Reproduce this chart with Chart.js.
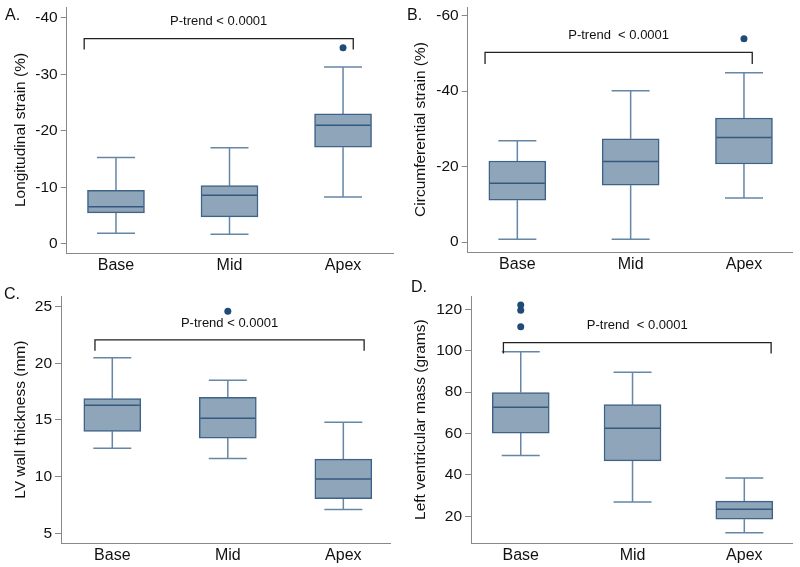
<!DOCTYPE html>
<html>
<head>
<meta charset="utf-8">
<script src="https://cdn.jsdelivr.net/npm/chart.js@4.4.1/dist/chart.umd.min.js"></script>
<style>
body { margin: 0; background: #fff; width: 800px; height: 567px; position: relative; overflow: hidden; font-family: "Liberation Sans", Arial, sans-serif; }
canvas { position: absolute; }
.tag { position: absolute; font-size: 16px; line-height: 16px; color: #111; }
</style>
</head>
<body>
<canvas id="cA" width="400" height="283" style="left:0;top:0"></canvas>
<canvas id="cB" width="400" height="283" style="left:400px;top:0"></canvas>
<canvas id="cC" width="400" height="284" style="left:0;top:283px"></canvas>
<canvas id="cD" width="400" height="284" style="left:400px;top:283px"></canvas>
<div class="tag" style="left:5px;top:7px">A.</div>
<div class="tag" style="left:407px;top:7px">B.</div>
<div class="tag" style="left:4px;top:286px">C.</div>
<div class="tag" style="left:411px;top:279px">D.</div>
<script>
var categories = ['Base', 'Mid', 'Apex'];

// A. longitudinal strain (%)
var longLow = [-1.9, -1.7, -8.3];
var longQ1 = [-5.5, -4.8, -17.1];
var longMedian = [-6.6, -8.6, -21.0];
var longQ3 = [-9.5, -10.3, -23.0];
var longHigh = [-15.3, -17.0, -31.3];
var longOutliers = [[], [], [-34.7]];
var longTicks = [-40, -30, -20, -10, 0];

// B. circumferential strain (%)
var circLow = [-0.8, -0.8, -11.7];
var circQ1 = [-11.1, -15.1, -20.7];
var circMedian = [-15.6, -21.4, -27.7];
var circQ3 = [-21.5, -27.4, -32.9];
var circHigh = [-26.9, -40.1, -44.9];
var circOutliers = [[], [], [-53.9]];
var circTicks = [-60, -40, -20, 0];

// C. LV wall thickness (mm)
var wallLow = [12.5, 11.6, 7.1];
var wallQ1 = [14.0, 13.4, 8.05];
var wallMedian = [16.3, 15.15, 9.8];
var wallQ3 = [16.9, 17.0, 11.55];
var wallHigh = [20.5, 18.5, 14.8];
var wallOutliers = [[], [24.6], []];
var wallTicks = [5, 10, 15, 20, 25];

// D. left ventricular mass (grams)
var massLow = [49.4, 26.9, 12.1];
var massQ1 = [60.2, 46.8, 18.6];
var massMedian = [72.7, 62.5, 23.4];
var massQ3 = [79.8, 73.9, 27.3];
var massHigh = [99.5, 89.6, 38.5];
var massOutliers = [[122.1, 119.5, 111.6], [], []];
var massTicks = [20, 40, 60, 80, 100, 120];

var FONT = '"Liberation Sans", Arial, sans-serif';
var BOX_W = 57;

// whiskers, medians and the P-trend bracket, drawn through the chart scales
var boxPlugin = {
    id: 'boxWhiskers',
    beforeDatasetsDraw: function (chart, args, o) {
        var xs = chart.scales.x, ys = chart.scales.y, ctx = chart.ctx;
        ctx.save();
        ctx.strokeStyle = '#6586a5';
        ctx.lineWidth = 1.5;
        o.q1.forEach(function (v, i) {
            var x = xs.getPixelForValue(i + 1);
            [[o.q1[i], o.low[i]], [o.q3[i], o.high[i]]].forEach(function (seg) {
                var y0 = ys.getPixelForValue(seg[0]);
                var y1 = ys.getPixelForValue(seg[1]);
                ctx.beginPath();
                ctx.moveTo(x, y0);
                ctx.lineTo(x, y1);
                ctx.moveTo(x - 19, y1);
                ctx.lineTo(x + 19, y1);
                ctx.stroke();
            });
        });
        ctx.restore();
    },
    afterDatasetsDraw: function (chart, args, o) {
        var xs = chart.scales.x, ys = chart.scales.y, ctx = chart.ctx;
        ctx.save();
        // medians
        ctx.strokeStyle = '#34597f';
        ctx.lineWidth = 1.5;
        o.median.forEach(function (v, i) {
            var x = xs.getPixelForValue(i + 1);
            var y = ys.getPixelForValue(v);
            ctx.beginPath();
            ctx.moveTo(x - BOX_W / 2 + 1, y);
            ctx.lineTo(x + BOX_W / 2 - 1, y);
            ctx.stroke();
        });
        // bracket
        var b = o.bracket;
        var x1 = xs.getPixelForValue(b.from), x2 = xs.getPixelForValue(b.to);
        var yb = ys.getPixelForValue(b.y), yd = ys.getPixelForValue(b.drop);
        ctx.strokeStyle = '#222';
        ctx.lineWidth = 1.3;
        ctx.beginPath();
        ctx.moveTo(x1, yd);
        ctx.lineTo(x1, yb);
        ctx.lineTo(x2, yb);
        ctx.lineTo(x2, yd);
        ctx.stroke();
        ctx.fillStyle = '#111';
        ctx.font = '13px ' + FONT;
        ctx.textAlign = 'center';
        ctx.textBaseline = 'middle';
        ctx.fillText(b.text, (x1 + x2) / 2, yb - 17);
        ctx.restore();
    }
};

function makePanel(id, p) {
    var boxes = categories.map(function (c, i) {
        return {x: i + 1, y: [p.q1[i], p.q3[i]]};
    });
    var points = [];
    p.outliers.forEach(function (list, i) {
        list.forEach(function (v) { points.push({x: i + 1, y: v}); });
    });

    return new Chart(document.getElementById(id), {
        type: 'bar',
        data: {
            datasets: [{
                type: 'bar',
                data: boxes,
                backgroundColor: '#8fa6ba',
                borderColor: '#3e6288',
                borderWidth: 1.5,
                borderSkipped: false,
                barThickness: BOX_W
            }, {
                type: 'scatter',
                data: points,
                pointRadius: 3.5,
                backgroundColor: '#1f4b78',
                borderWidth: 0
            }]
        },
        plugins: [boxPlugin],
        options: {
            responsive: false,
            animation: false,
            layout: { padding: { left: 0, top: p.top, right: p.right, bottom: 0 } },
            plugins: {
                legend: { display: false },
                tooltip: { enabled: false },
                boxWhiskers: p
            },
            scales: {
                x: {
                    type: 'linear',
                    min: p.xMin,
                    max: p.xMax,
                    offset: false,
                    afterBuildTicks: function (s) {
                        s.ticks = categories.map(function (c, i) { return {value: i + 1}; });
                    },
                    ticks: {
                        autoSkip: false,
                        maxRotation: 0,
                        padding: 3,
                        color: '#111',
                        font: { family: FONT, size: 16 },
                        callback: function (v, i) { return categories[i]; }
                    },
                    grid: { display: false, drawTicks: false },
                    border: { display: true, color: '#888', width: 1 },
                    afterFit: function (s) {
                        s.height = p.axisBottom;
                        s.paddingLeft = 0;
                        s.paddingRight = 0;
                    }
                },
                y: {
                    type: 'linear',
                    reverse: p.reverse,
                    min: p.yMin,
                    max: p.yMax,
                    afterBuildTicks: function (s) {
                        s.ticks = p.ticks.map(function (v) { return {value: v}; });
                    },
                    ticks: {
                        padding: 3,
                        color: '#111',
                        font: { family: FONT, size: 15.5 },
                        callback: function (v) { return String(v); }
                    },
                    grid: { display: true, drawOnChartArea: false, drawTicks: true, tickLength: 6, color: '#888' },
                    border: { display: true, color: '#888', width: 1 },
                    title: {
                        display: true,
                        text: p.title,
                        color: '#111',
                        font: { family: FONT, size: 15.5 },
                        padding: { top: 11, bottom: 0 }
                    },
                    afterFit: function (s) {
                        s.width = p.axisLeft;
                        s.paddingTop = 0;
                        s.paddingBottom = 0;
                    }
                }
            }
        }
    });
}

makePanel('cA', {
    title: 'Longitudinal strain (%)',
    low: longLow, q1: longQ1, median: longMedian, q3: longQ3, high: longHigh,
    outliers: longOutliers, ticks: longTicks,
    reverse: true, yMin: -41.9, yMax: 1.6, xMin: 0.566, xMax: 3.44,
    top: 7, right: 7, axisLeft: 66.7, axisBottom: 30,
    bracket: { from: 0.72, to: 3.09, y: -36.3, drop: -34.4, text: 'P-trend < 0.0001' }
});

makePanel('cB', {
    title: 'Circumferential strain (%)',
    low: circLow, q1: circQ1, median: circMedian, q3: circQ3, high: circHigh,
    outliers: circOutliers, ticks: circTicks,
    reverse: true, yMin: -62.3, yMax: 2.6, xMin: 0.562, xMax: 3.43,
    top: 7, right: 7.3, axisLeft: 67.7, axisBottom: 31,
    bracket: { from: 0.715, to: 3.073, y: -50.3, drop: -47.2, text: 'P-trend  < 0.0001' }
});

makePanel('cC', {
    title: 'LV wall thickness (mm)',
    low: wallLow, q1: wallQ1, median: wallMedian, q3: wallQ3, high: wallHigh,
    outliers: wallOutliers, ticks: wallTicks,
    reverse: false, yMin: 4.12, yMax: 25.94, xMin: 0.556, xMax: 3.41,
    top: 13, right: 9.3, axisLeft: 61, axisBottom: 23.7,
    bracket: { from: 0.85, to: 3.18, y: 22.06, drop: 21.1, text: 'P-trend < 0.0001' }
});

makePanel('cD', {
    title: 'Left ventricular mass (grams)',
    low: massLow, q1: massQ1, median: massMedian, q3: massQ3, high: massHigh,
    outliers: massOutliers, ticks: massTicks,
    reverse: false, yMin: 6.96, yMax: 126.4, xMin: 0.555, xMax: 3.433,
    top: 13, right: 7.3, axisLeft: 71, axisBottom: 23.7,
    bracket: { from: 0.845, to: 3.24, y: 103.9, drop: 98.6, text: 'P-trend  < 0.0001' }
});
</script>
</body>
</html>
